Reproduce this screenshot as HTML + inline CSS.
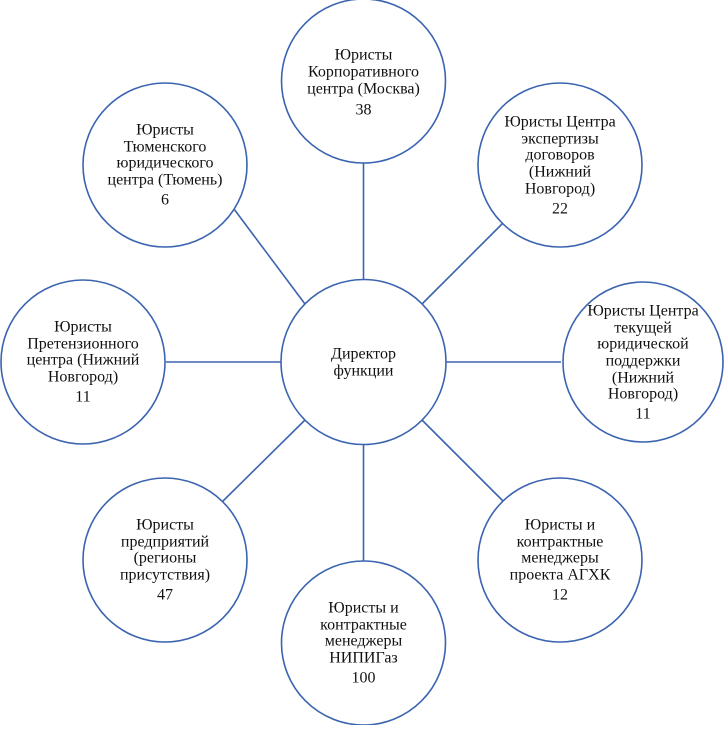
<!DOCTYPE html>
<html><head><meta charset="utf-8"><style>
html,body{margin:0;padding:0;background:#fff;}
svg text{font-family:"Liberation Serif",serif;font-size:16px;fill:#111;text-anchor:middle;dominant-baseline:central;}
</style></head><body>
<svg width="725" height="725" viewBox="0 0 725 725" xmlns="http://www.w3.org/2000/svg">
<g stroke="#3b64b0" stroke-width="1.6" fill="none">
<line x1="363.5" y1="163" x2="363.5" y2="280"/>
<line x1="363.5" y1="445" x2="363.5" y2="561"/>
<line x1="166" y1="362" x2="281" y2="362"/>
<line x1="446" y1="362" x2="561" y2="362"/>
<line x1="222" y1="193" x2="305" y2="304"/>
<line x1="504" y1="222" x2="422" y2="304"/>
<line x1="222" y1="502" x2="305" y2="420"/>
<line x1="504" y1="502" x2="422" y2="420"/>
<circle cx="363.5" cy="362" r="82.5" fill="#fff"/>
<circle cx="363.5" cy="81" r="82" fill="#fff"/>
<circle cx="363.5" cy="643" r="82" fill="#fff"/>
<circle cx="83" cy="362" r="82" fill="#fff"/>
<circle cx="643" cy="362" r="80" fill="#fff"/>
<circle cx="165" cy="165" r="82" fill="#fff"/>
<circle cx="560" cy="165" r="82" fill="#fff"/>
<circle cx="165" cy="560" r="82" fill="#fff"/>
<circle cx="560" cy="560" r="82" fill="#fff"/>
</g>
<text x="363.5" y="354">Директор</text><text x="363.5" y="371">функции</text>

<text x="363.5" y="55">Юристы</text><text x="363.5" y="72">Корпоративного</text><text x="363.5" y="89">центра (Москва)</text><text x="363.5" y="110">38</text>

<text x="165" y="130">Юристы</text><text x="165" y="147">Тюменского</text><text x="165" y="163">юридического</text><text x="165" y="180">центра (Тюмень)</text><text x="165" y="200">6</text>

<text x="560" y="122">Юристы Центра</text><text x="560" y="139">экспертизы</text><text x="560" y="155">договоров</text><text x="560" y="172">(Нижний</text><text x="560" y="189">Новгород)</text><text x="560" y="209">22</text>

<text x="83" y="327">Юристы</text><text x="83" y="344">Претензионного</text><text x="83" y="360">центра (Нижний</text><text x="83" y="377">Новгород)</text><text x="83" y="397">11</text>

<text x="643" y="311">Юристы Центра</text><text x="643" y="328">текущей</text><text x="643" y="344">юридической</text><text x="643" y="361">поддержки</text><text x="643" y="378">(Нижний</text><text x="643" y="394">Новгород)</text><text x="643" y="414">11</text>

<text x="165" y="525">Юристы</text><text x="165" y="542">предприятий</text><text x="165" y="558">(регионы</text><text x="165" y="575">присутствия)</text><text x="165" y="595">47</text>

<text x="560" y="525">Юристы и</text><text x="560" y="542">контрактные</text><text x="560" y="558">менеджеры</text><text x="560" y="575">проекта АГХК</text><text x="560" y="595">12</text>

<text x="363.5" y="608">Юристы и</text><text x="363.5" y="625">контрактные</text><text x="363.5" y="641">менеджеры</text><text x="363.5" y="658">НИПИГаз</text><text x="363.5" y="678">100</text>
</svg>
</body></html>
